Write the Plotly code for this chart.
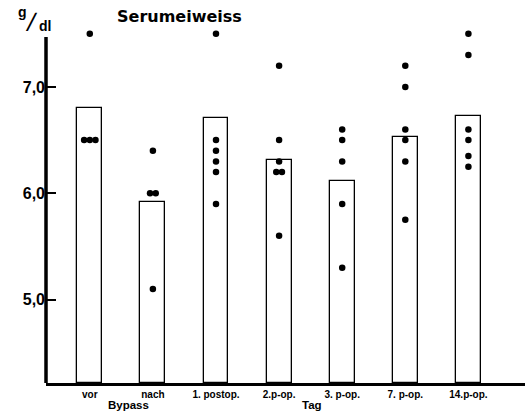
import plotly.graph_objects as go
from collections import Counter

categories = ["vor", "nach", "1. postop.", "2.p-op.", "3. p-op.", "7. p-op.", "14.p-op."]
means = [6.80, 5.92, 6.71, 6.31, 6.12, 6.53, 6.73]
points = [
    [7.5, 6.5, 6.5, 6.5],
    [6.4, 6.0, 6.0, 5.1],
    [7.5, 6.5, 6.4, 6.3, 6.2, 5.9],
    [7.2, 6.5, 6.3, 6.2, 6.2, 5.6],
    [6.6, 6.5, 6.3, 5.9, 5.3],
    [7.2, 7.0, 6.6, 6.5, 6.3, 5.75],
    [7.5, 7.3, 6.6, 6.5, 6.35, 6.25],
]
y_ticks = [5.0, 6.0, 7.0]
y_tick_labels = ["5,0", "6,0", "7,0"]

W, H = 525, 412
ML, MR, MT, MB = 46, 0, 30, 29
YMIN, YMAX = 4.215, 7.536
XMIN, XMAX = -0.694, 6.897
FONT = "Liberation Sans, Arial, sans-serif"
WIDE = "DejaVu Sans, Verdana, sans-serif"

def px(x, y):
    return (x - ML) / (W - ML - MR), (H - MB - y) / (H - MT - MB)

fig = go.Figure()
xs = list(range(len(categories)))
fig.add_trace(go.Bar(
    x=xs, y=[m - YMIN for m in means], base=YMIN, width=0.396,
    marker=dict(color="white", line=dict(color="black", width=1.3)),
    showlegend=False, hoverinfo="skip",
))

dx, dy = [], []
for i, vals in enumerate(points):
    cnt = Counter(vals)
    seen = Counter()
    for v in vals:
        n = cnt[v]
        k = seen[v]
        seen[v] += 1
        off = (k - (n - 1) / 2) * 0.09
        dx.append(i + off)
        dy.append(v)
fig.add_trace(go.Scatter(
    x=dx, y=dy, mode="markers",
    marker=dict(color="black", size=6.5),
    showlegend=False, hoverinfo="skip", cliponaxis=False,
))

fig.update_xaxes(
    range=[XMIN, XMAX], tickvals=xs, ticktext=[f"<b>{c}</b>" for c in categories],
    showline=True, linecolor="black", linewidth=3, ticks="", showgrid=False,
    zeroline=False, tickfont=dict(family=FONT, size=10, color="black"),
    automargin=False, ticklabelstandoff=0,
)
fig.update_yaxes(
    range=[YMIN, YMAX], tickvals=y_ticks, ticktext=[f"<b>{t}</b>" for t in y_tick_labels],
    showline=False, ticks="inside", ticklen=10,
    tickwidth=2, tickcolor="black", showgrid=False, zeroline=False,
    tickfont=dict(family=FONT, size=16, color="black"),
    automargin=False,
)
fig.add_shape(type="line", xref="paper", yref="y", x0=0, x1=0, y0=YMIN, y1=7.47,
              line=dict(color="black", width=3.5))

annots = []
def add_text(text, x, y, size, xanchor="center", family=FONT, yanchor="middle"):
    ax, ay = px(x, y)
    annots.append(dict(text=text, x=ax, y=ay, xref="paper", yref="paper",
                       xanchor=xanchor, yanchor=yanchor, showarrow=False, borderpad=0,
                       font=dict(family=family, size=size, color="black")))

add_text("<b>Serumeiweiss</b>", 116, 17, 16, "left", WIDE)
add_text("<b>g</b>", 22, 12, 14)
add_text("<b>╱</b>", 31, 21, 15)
add_text("<b>dl</b>", 45, 26, 14)
add_text("<b>Bypass</b>", 128, 411.5, 11.5, yanchor="bottom")
add_text("<b>Tag</b>", 312, 411.5, 11.5, yanchor="bottom")

fig.update_layout(
    width=W, height=H, margin=dict(l=ML, r=MR, t=MT, b=MB),
    plot_bgcolor="white", paper_bgcolor="white", annotations=annots,
    bargap=0,
)
fig.write_html("out.html", config={"displayModeBar": False},
               post_script="document.body.style.margin='0';document.body.style.overflow='hidden';")
